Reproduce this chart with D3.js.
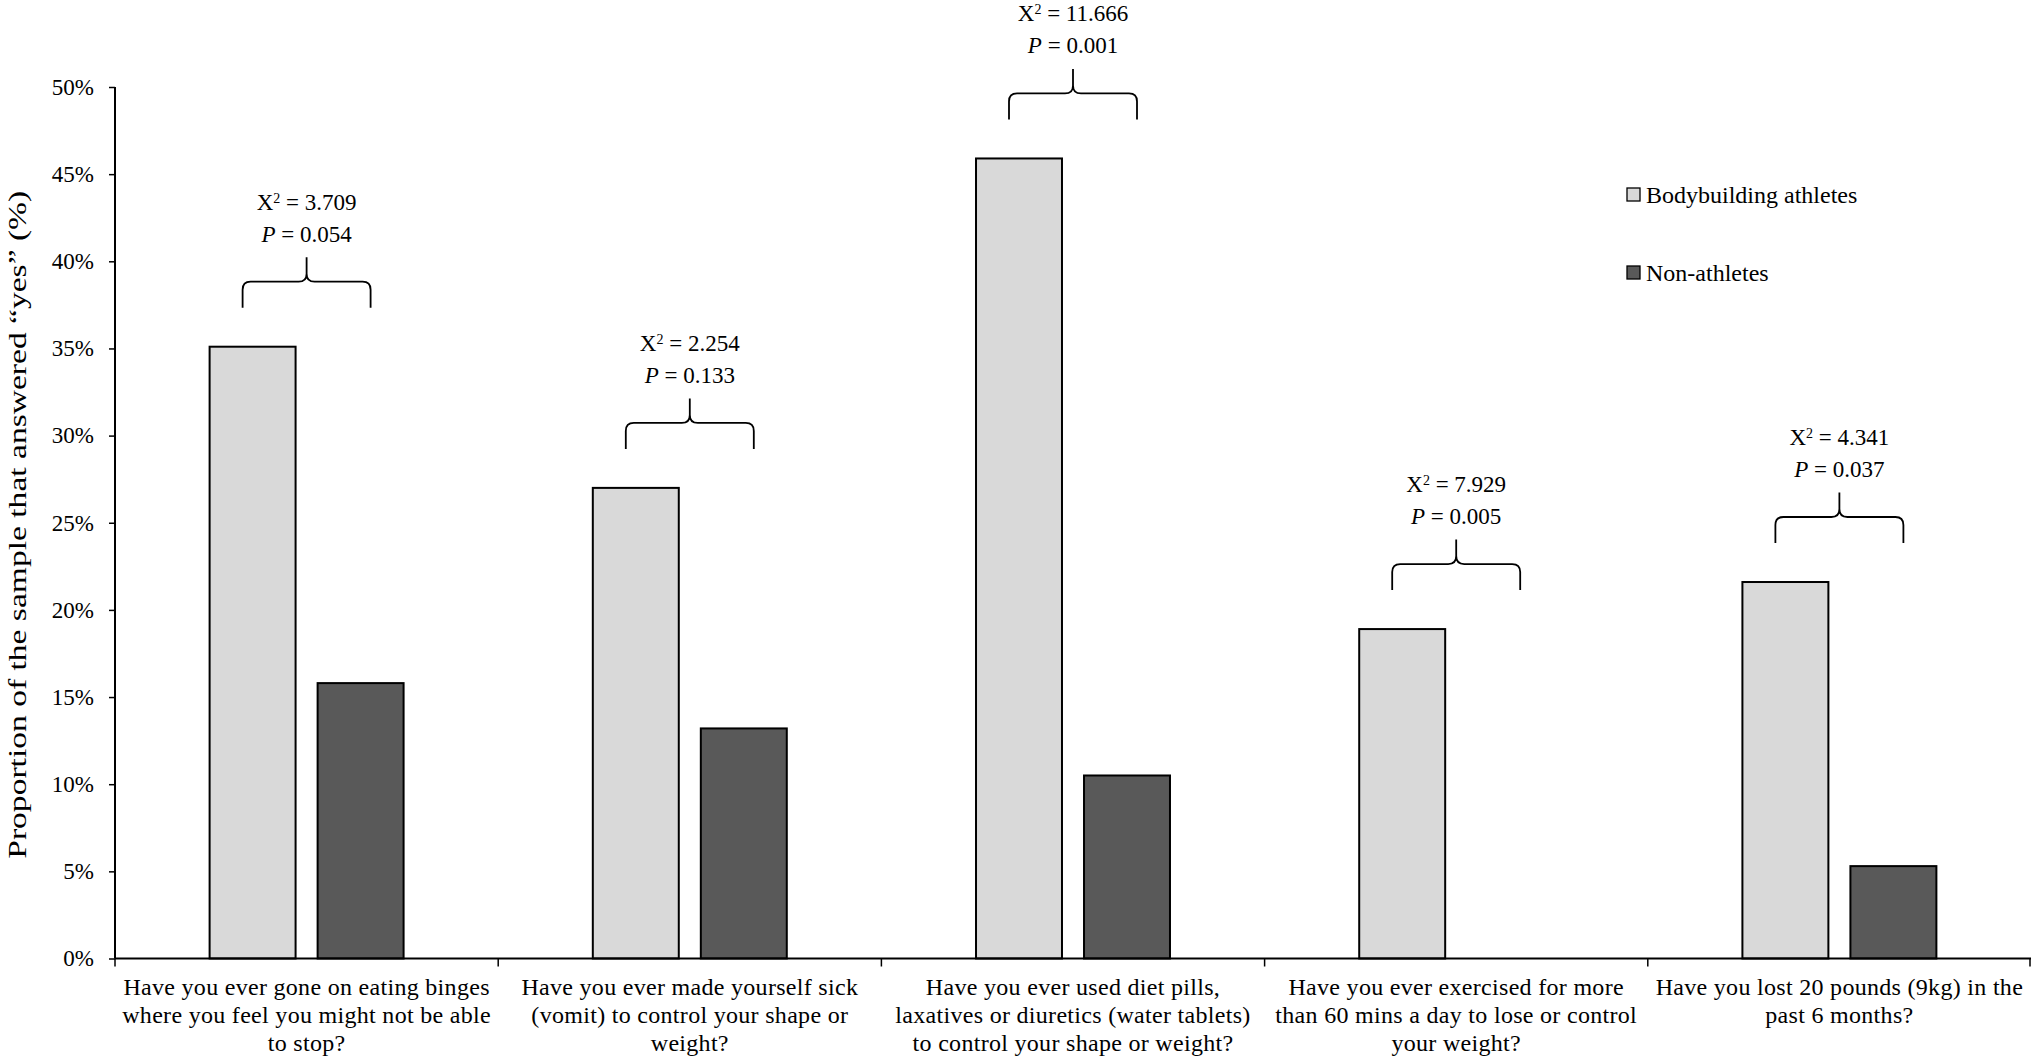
<!DOCTYPE html>
<html>
<head>
<meta charset="utf-8">
<script src="https://cdn.jsdelivr.net/npm/d3@7"></script>
<style>
  html, body { margin: 0; padding: 0; background: #fff; }
  svg { display: block; }
  text { font-family: "Liberation Serif", "Times New Roman", serif; fill: #000; }
</style>
</head>
<body>
<svg id="chart" width="2031" height="1057"></svg>
<script>
// ---- data ----
const categories = [
  "Have you ever gone on eating binges where you feel you might not be able to stop?",
  "Have you ever made yourself sick (vomit) to control your shape or weight?",
  "Have you ever used diet pills, laxatives or diuretics (water tablets) to control your shape or weight?",
  "Have you ever exercised for more than 60 mins a day to lose or control your weight?",
  "Have you lost 20 pounds (9kg) in the past 6 months?"
];
const categoryLabelLines = [
  ["Have you ever gone on eating binges", "where you feel you might not be able", "to stop?"],
  ["Have you ever made yourself sick", "(vomit) to control your shape or", "weight?"],
  ["Have you ever used diet pills,", "laxatives or diuretics (water tablets)", "to control your shape or weight?"],
  ["Have you ever exercised for more", "than 60 mins a day to lose or control", "your weight?"],
  ["Have you lost 20 pounds (9kg) in the", "past 6 months?"]
];
const seriesNames = ["Bodybuilding athletes", "Non-athletes"];
const bodybuilders = [35.1, 27.0, 45.9, 18.9, 21.6];
const nonAthletes  = [15.8, 13.2, 10.5, 0.0, 5.3];
const chiSquare = ["3.709", "2.254", "11.666", "7.929", "4.341"];
const pValues   = ["0.054", "0.133", "0.001", "0.005", "0.037"];
const yTicks = [0, 5, 10, 15, 20, 25, 30, 35, 40, 45, 50];
const yTitle = "Proportion of the sample that answered \u201cyes\u201d (%)";

// ---- layout ----
const left = 115, right = 2031, yBottom = 958.5, yTop = 87;
const colors = ["#d9d9d9", "#595959"];

const svg = d3.select("#chart");

const x0 = d3.scaleBand().domain(categories).range([left, right]).paddingInner(0).paddingOuter(0);
const x1 = d3.scaleBand().domain(seriesNames).range([0, x0.bandwidth()]).paddingInner(0.204).paddingOuter(0.876);
const y = d3.scaleLinear().domain([0, 50]).range([yBottom, yTop]);

const rows = categories.map((c, i) => ({
  cat: c, i,
  vals: [{s: seriesNames[0], v: bodybuilders[i]}, {s: seriesNames[1], v: nonAthletes[i]}]
}));

// bars
svg.append("g").selectAll("g.grp").data(rows).join("g")
  .attr("class", "grp")
  .attr("transform", d => `translate(${x0(d.cat)},0)`)
  .selectAll("rect").data(d => d.vals.filter(v => v.v > 0)).join("rect")
  .attr("x", d => x1(d.s))
  .attr("y", d => y(d.v))
  .attr("width", x1.bandwidth())
  .attr("height", d => y(0) - y(d.v))
  .attr("fill", d => colors[seriesNames.indexOf(d.s)])
  .attr("stroke", "#000")
  .attr("stroke-width", 2);

// y axis
const yAxis = d3.axisLeft(y).tickValues(yTicks).tickFormat(d => d + "%").tickSize(6).tickPadding(15);
const ya = svg.append("g").attr("transform", `translate(${left},0)`).call(yAxis);
ya.select(".domain").attr("stroke", "#000").attr("stroke-width", 2).attr("d", `M0,${yBottom}V${yTop}`);
ya.selectAll(".tick line").attr("stroke", "#000").attr("stroke-width", 1.5);
ya.selectAll(".tick text").attr("font-family", "Liberation Serif").attr("font-size", 23);

// x axis
const xa = svg.append("g").attr("transform", `translate(0,${yBottom})`)
  .call(d3.axisBottom(x0).tickSize(0).tickFormat(""));
xa.select(".domain").attr("stroke", "#000").attr("stroke-width", 2).attr("d", `M${left},0H${right}`);
const bounds = categories.map(c => x0(c)).concat([right - 1]);
xa.selectAll("line.bound").data(bounds).join("line")
  .attr("class", "bound")
  .attr("x1", d => d).attr("x2", d => d)
  .attr("y1", 0).attr("y2", 8)
  .attr("stroke", "#000").attr("stroke-width", 1.5);

// category labels
const lbl = svg.append("g").selectAll("text").data(rows).join("text")
  .attr("text-anchor", "middle")
  .attr("font-size", 24)
  .attr("letter-spacing", 0.3)
  .attr("y", 995);
lbl.selectAll("tspan").data(d => categoryLabelLines[d.i].map(t => ({t, x: x0(d.cat) + x0.bandwidth() / 2}))).join("tspan")
  .attr("x", d => d.x)
  .attr("dy", (d, j) => j === 0 ? 0 : 28)
  .text(d => d.t);

// y title
svg.append("text")
  .attr("transform", `translate(26,${(yTop + yBottom) / 2 + 2}) rotate(-90)`)
  .attr("text-anchor", "middle")
  .attr("font-size", 26)
  .attr("textLength", 668)
  .attr("lengthAdjust", "spacingAndGlyphs")
  .text(yTitle);

// braces + stats
const lift = 39, armH = 26, tipH = 24.5, half = 64, r = 8;
const ann = svg.append("g");
rows.forEach(d => {
  const cx = x0(d.cat) + x0.bandwidth() / 2;
  const top = y(d3.max(d.vals, v => v.v));
  const yEnd = top - lift, yH = yEnd - armH, yTip = yH - tipH;
  const xl = cx - half, xr = cx + half;
  const path = `M${xl},${yEnd} L${xl},${yH + r} Q${xl},${yH} ${xl + r},${yH} L${cx - r},${yH} Q${cx},${yH} ${cx},${yH - r} L${cx},${yTip}` +
               ` M${cx},${yH - r} Q${cx},${yH} ${cx + r},${yH} L${xr - r},${yH} Q${xr},${yH} ${xr},${yH + r} L${xr},${yEnd}`;
  ann.append("path").attr("d", path).attr("fill", "none").attr("stroke", "#000").attr("stroke-width", 1.8);
  const t1 = ann.append("text").attr("x", cx).attr("y", yTip - 47.5).attr("text-anchor", "middle").attr("font-size", 23);
  t1.append("tspan").text("X");
  t1.append("tspan").attr("font-size", 14).attr("dy", -7).text("2");
  t1.append("tspan").attr("dy", 7).text(" = " + chiSquare[d.i]);
  const t2 = ann.append("text").attr("x", cx).attr("y", yTip - 15.5).attr("text-anchor", "middle").attr("font-size", 23);
  t2.append("tspan").attr("font-style", "italic").text("P");
  t2.append("tspan").text(" = " + pValues[d.i]);
});

// legend
const leg = svg.append("g").attr("transform", "translate(1627,0)");
const legY = [195, 273];
seriesNames.forEach((s, i) => {
  leg.append("rect").attr("x", 0).attr("y", legY[i] - 7).attr("width", 13).attr("height", 13)
    .attr("fill", colors[i]).attr("stroke", "#000").attr("stroke-width", 1.3);
  leg.append("text").attr("x", 19).attr("y", legY[i] + 8).attr("font-size", 24).text(s);
});
</script>
</body>
</html>
